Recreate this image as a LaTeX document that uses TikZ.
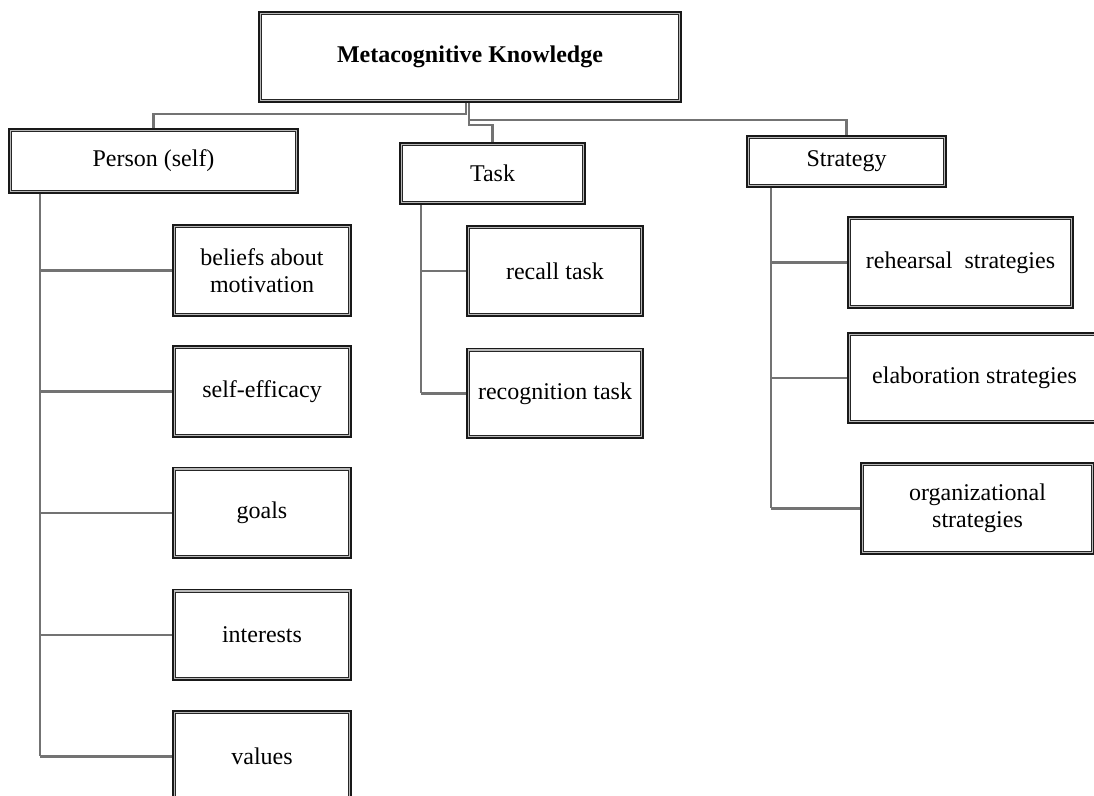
\documentclass[tikz,border=0pt]{standalone}
\usepackage{fontspec}
\setmainfont{Liberation Serif}
\begin{document}
\begin{tikzpicture}[x=0.5pt,y=-0.5pt,
  box/.style={draw=black!90, line width=1.8pt, fill=white, align=center,
    inner sep=2pt, font=\fontsize{12}{13.5}\selectfont,
    minimum width=#1},
  box/.default=88pt,
  link/.style={draw=gray!90!black, line width=1.2pt}]
\clip (0,0) rectangle (1094,796);

% top node and the three categories
\node[box=210pt, minimum height=44pt, font=\bfseries\fontsize{12}{13.5}\selectfont] (main) at (470,57) {Metacognitive Knowledge};
\node[box=143.5pt, minimum height=31pt] (person) at (153.5,161) {Person (self)};
\node[box=91.5pt, minimum height=29.5pt] (task) at (492.5,173.5) {Task};
\node[box=98.5pt, minimum height=24.5pt] (strategy) at (846.5,161.5) {Strategy};

% person sub-items
\node[box=88pt, minimum height=44.5pt] (p1) at (262,270.5) {beliefs about\\motivation};
\node[box=88pt, minimum height=44.5pt] (p2) at (262,391.5) {self-efficacy};
\node[box=88pt, minimum height=44.5pt] (p3) at (262,513) {goals};
\node[box=88pt, minimum height=44.5pt] (p4) at (262,635) {interests};
\node[box=88pt, minimum height=44.5pt] (p5) at (262,756.5) {values};

% task sub-items
\node[box=87pt, minimum height=44pt] (t1) at (555,271) {recall task};
\node[box=87pt, minimum height=44pt] (t2) at (555,393.5) {recognition task};

% strategy sub-items
\node[box=111.5pt, minimum height=44.5pt] (s1) at (960.5,262.5) {rehearsal\ \ strategies};
\node[box=125.5pt, minimum height=44pt] (s2) at (974.5,378) {elaboration strategies};
\node[box=115.5pt, minimum height=44.5pt] (s3) at (977.5,508.5) {organizational\\strategies};

% inner rules of the framed boxes
\foreach \n in {main,person,task,strategy,p1,p2,p3,p4,p5,t1,t2,s1,s2,s3}{
  \draw[gray!55, line width=0.6pt]
    ([shift={(1.2pt,-1.2pt)}]\n.north west) rectangle ([shift={(-1.2pt,1.2pt)}]\n.south east);
  \draw[black!85, line width=0.55pt]
    ([shift={(1.75pt,-1.75pt)}]\n.north west) rectangle ([shift={(-1.75pt,1.75pt)}]\n.south east);
}

% connectors from the top node
\coordinate (jl) at (466,114);
\coordinate (js) at (469,120);
\coordinate (jt) at (469,125);
\draw[link] (jl |- main.south) -- (jl) -| (person.north);
\draw[link] (jt |- main.south) -- (jt) -| (task.north);
\draw[link] (js) -| (strategy.north);

% person branch
\coordinate (pv) at (40,0);
\draw[link] (pv |- person.south) -- (pv |- p5.west);
\foreach \n in {p1,p2,p3,p4,p5}{ \draw[link] (pv |- \n.west) -- (\n.west); }

% task branch
\coordinate (tv) at (421,0);
\draw[link] (tv |- task.south) -- (tv |- t2.west);
\foreach \n in {t1,t2}{ \draw[link] (tv |- \n.west) -- (\n.west); }

% strategy branch
\coordinate (sv) at (771,0);
\draw[link] (sv |- strategy.south) -- (sv |- s3.west);
\foreach \n in {s1,s2,s3}{ \draw[link] (sv |- \n.west) -- (\n.west); }
\end{tikzpicture}
\end{document}
